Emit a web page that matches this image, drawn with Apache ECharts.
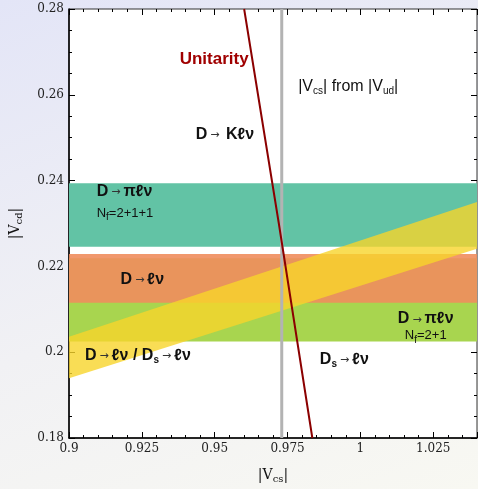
<!DOCTYPE html>
<html>
<head>
<meta charset="utf-8">
<script src="https://cdn.jsdelivr.net/npm/echarts@6/dist/echarts.min.js"></script>
<style>
  html, body { margin: 0; padding: 0; }
  body { background: linear-gradient(160deg, #e3e5f7 0%, #f1f1f4 55%, #f8f8f2 100%); }
  #vckm { width: 478px; height: 489px; }
</style>
</head>
<body>
<div id="vckm"></div>
<script>
// axis ranges
var xMin = 0.9, xMax = 1.04;
var yMin = 0.18, yMax = 0.28;

// horizontal |Vcd| bands: D->pi l nu (2+1+1), D->pi l nu (2+1), D->l nu
var bandNames = ['D→πℓν 2+1+1', 'D→πℓν 2+1', 'D→ℓν'];
var bandLow = [0.2246, 0.2025, 0.2115];
var bandHigh = [0.2394, 0.2219, 0.2229];

// ratio band |Vcd|/|Vcs| from D->l nu / Ds->l nu (edges)
var ratioLow = [[0.9, 0.1939], [1.04, 0.2241]];
var ratioHigh = [[0.9, 0.2036], [1.04, 0.2350]];

// unitarity curve and |Vcs| from |Vud|
var unitarity = [[0.9601, 0.28], [0.9720, 0.23], [0.9835, 0.18]];
var vcsFromVud = 0.973;

// text annotations (data coordinates)
var annotX = [0.9498, 0.9958, 0.9535, 0.9095, 0.9095, 0.9177, 0.9055, 1.0224, 1.0224, 0.9945];
var annotY = [0.2682, 0.2617, 0.2505, 0.2372, 0.2321, 0.2168, 0.1990, 0.2075, 0.2036, 0.1981];
var annotText = [
    '{u|Unitarity}',
    '{n||V}{ns|cs}{n|| from |V}{ns|ud}{n||}',
    '{b|D}{arr|→ }{b|Kℓν}',
    '{b|D}{arr|→}{b|πℓν}',
    '{m|N}{ns|f}{m|=2+1+1}',
    '{b|D}{arr|→}{b|ℓν}',
    '{b|D}{arr|→}{b|ℓν / D}{bs|s}{arr|→}{b|ℓν}',
    '{b|D}{arr|→}{b|πℓν}',
    '{m|N}{ns|f}{m|=2+1}',
    '{b|D}{bs|s}{arr|→}{b|ℓν}'
];
var annotAlign = ['center', 'center', 'center', 'left', 'left', 'left', 'left', 'center', 'center', 'center'];

var bandColors = ['#62c3a5', '#a8d54f', '#f08d5d'];
var bandOpacity = [1, 1, 0.9];

var sans = 'Liberation Sans, Arial, sans-serif';
var serif = 'DejaVu Serif, serif';

var richStyles = {
    u: { fontFamily: sans, fontWeight: 'bold', fontSize: 17, color: '#a00000' },
    b: { fontFamily: sans, fontWeight: 'bold', fontSize: 16, color: '#111', lineHeight: 18, verticalAlign: 'top' },
    bs: { fontFamily: sans, fontWeight: 'bold', fontSize: 10, color: '#111', lineHeight: 8, verticalAlign: 'bottom' },
    arr: { fontFamily: 'DejaVu Sans, sans-serif', fontSize: 11, color: '#333', verticalAlign: 'middle', padding: [0, 3, 0, 3] },
    n: { fontFamily: sans, fontSize: 16, color: '#111', lineHeight: 18, verticalAlign: 'top' },
    m: { fontFamily: sans, fontSize: 13, color: '#111', lineHeight: 16, verticalAlign: 'top' },
    ns: { fontFamily: sans, fontSize: 10, color: '#111', lineHeight: 9, verticalAlign: 'bottom' }
};

function hBand(i) {
    return {
        type: 'custom',
        name: bandNames[i],
        data: [[bandLow[i], bandHigh[i]]],
        z: 1 + i,
        silent: true,
        renderItem: function (params, api) {
            var p0 = api.coord([xMin, bandHigh[i]]);
            var p1 = api.coord([xMax, bandLow[i]]);
            return {
                type: 'rect',
                shape: { x: p0[0], y: p0[1], width: p1[0] - p0[0], height: p1[1] - p0[1] },
                style: { fill: bandColors[i], opacity: bandOpacity[i] }
            };
        }
    };
}

var annotData = [];
for (var i = 0; i < annotText.length; i++) {
    annotData.push({
        value: [annotX[i], annotY[i]],
        label: { formatter: annotText[i], align: annotAlign[i] }
    });
}

function sideAxis(pos, isX) {
    var a = {
        type: 'value',
        position: pos,
        min: isX ? xMin : yMin,
        max: isX ? xMax : yMax,
        interval: isX ? 0.025 : 0.02,
        axisLine: { show: false },
        axisLabel: { show: false },
        axisTick: { show: true, inside: true, length: 6, lineStyle: { color: '#000' } },
        minorTick: { show: true, splitNumber: isX ? 5 : 4, length: 3, lineStyle: { color: '#000' } },
        splitLine: { show: false }
    };
    return a;
}

var topAxis = sideAxis('top', true);
var rightAxis = sideAxis('right', false);

var chart = echarts.init(document.getElementById('vckm'));

chart.setOption({
    backgroundColor: 'transparent',
    animation: false,
    grid: {
        left: 67, right: 1, top: 9, bottom: 48,
        show: true, backgroundColor: '#fff', borderColor: '#333', borderWidth: 1
    },
    xAxis: [{
        type: 'value',
        position: 'bottom',
        min: xMin, max: xMax, interval: 0.025,
        name: '{s||V}{ss|cs}{s||}',
        nameLocation: 'middle',
        nameGap: 30,
        nameTextStyle: { rich: {
            s: { fontFamily: serif, fontSize: 14, color: '#111', lineHeight: 16, verticalAlign: 'top' },
            ss: { fontFamily: serif, fontSize: 10, color: '#111', lineHeight: 9, verticalAlign: 'bottom' }
        } },
        axisLine: { show: true, lineStyle: { color: '#000', width: 1.5 } },
        axisTick: { show: true, inside: true, length: 6, lineStyle: { color: '#000' } },
        minorTick: { show: true, splitNumber: 5, length: 3, lineStyle: { color: '#000' } },
        axisLabel: { fontFamily: serif, fontSize: 12, color: '#222', margin: 5, showMaxLabel: false },
        splitLine: { show: false }
    }, topAxis],
    yAxis: [{
        type: 'value',
        position: 'left',
        min: yMin, max: yMax, interval: 0.02,
        name: '{s||V}{ss|cd}{s||}',
        nameLocation: 'middle',
        nameGap: 45,
        nameTextStyle: { rich: {
            s: { fontFamily: serif, fontSize: 14, color: '#111', lineHeight: 16, verticalAlign: 'top' },
            ss: { fontFamily: serif, fontSize: 10, color: '#111', lineHeight: 9, verticalAlign: 'bottom' }
        } },
        axisLine: { show: true, lineStyle: { color: '#000', width: 1.5 } },
        axisTick: { show: true, inside: true, length: 6, lineStyle: { color: '#000' } },
        minorTick: { show: true, splitNumber: 4, length: 3, lineStyle: { color: '#000' } },
        axisLabel: { fontFamily: serif, fontSize: 12, color: '#222', margin: 5 },
        splitLine: { show: false }
    }, rightAxis],
    series: [
        hBand(0),
        hBand(1),
        hBand(2),
        {
            type: 'custom',
            name: 'D→ℓν / Ds→ℓν',
            data: [[ratioLow[0][0], ratioLow[0][1]]],
            z: 5,
            silent: true,
            renderItem: function (params, api) {
                var pts = [
                    api.coord(ratioLow[0]), api.coord(ratioLow[1]),
                    api.coord(ratioHigh[1]), api.coord(ratioHigh[0])
                ];
                return {
                    type: 'polygon',
                    shape: { points: pts },
                    style: { fill: '#f8d52a', opacity: 0.8 }
                };
            }
        },
        {
            type: 'line',
            name: '|Vcs| from |Vud|',
            data: [[vcsFromVud, yMin], [vcsFromVud, yMax]],
            symbol: 'none',
            z: 6,
            silent: true,
            lineStyle: { color: '#b3b3b3', width: 3 }
        },
        {
            type: 'line',
            name: 'Unitarity',
            data: unitarity,
            symbol: 'none',
            z: 7,
            silent: true,
            lineStyle: { color: '#8b0000', width: 2 }
        },
        {
            type: 'scatter',
            data: annotData,
            symbolSize: 0,
            z: 8,
            silent: true,
            itemStyle: { opacity: 1 },
            label: {
                show: true,
                position: 'inside',
                verticalAlign: 'middle',
                rich: richStyles
            }
        }
    ]
});
</script>
</body>
</html>
